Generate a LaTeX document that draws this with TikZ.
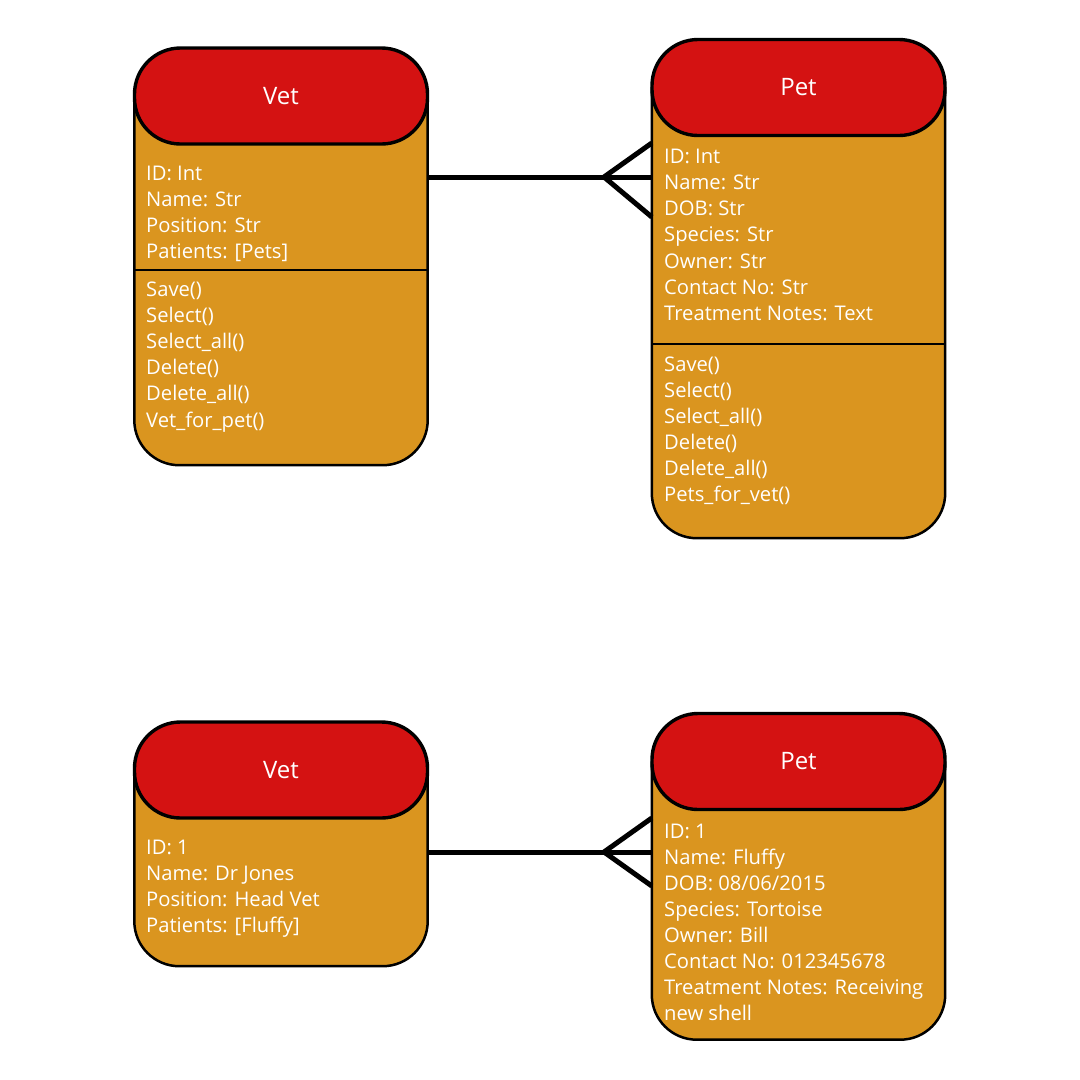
\documentclass[tikz,border=0pt]{standalone}
\usepackage{fontspec}
\setmainfont{Open Sans}
\definecolor{hdred}{HTML}{D41212}
\definecolor{bodyor}{HTML}{DA951F}
\tikzset{
  header/.style={draw=black, line width=3.4pt, fill=hdred, rounded corners=46pt,
    minimum width=293pt, minimum height=96pt, inner sep=0pt, text=white,
    font=\fontsize{24}{28}\selectfont},
  bodyarea/.style={inner sep=0pt, minimum width=293pt},
  bodyline/.style={draw=black, line width=2.5pt, fill=bodyor, rounded corners=45pt},
  divider/.style={draw=black, line width=2pt},
  txt/.style={anchor=base west, inner sep=0pt, text=white, font=\fontsize{20.2}{24}\selectfont},
  conn/.style={draw=black, line width=5pt},
}
\newcommand\textlines[5]{%
  \foreach \t [count=\i from 0] in {#4} {\node[txt] (#5-\i) at (#1,{#2+\i*#3}) {\t};}}
\begin{document}
\begin{tikzpicture}[x=1pt,y=-1pt]
\useasboundingbox (0,0) rectangle (1080,1080);
\fill[white] (0,0) rectangle (1080,1080);

% ---------- top Vet ----------
\node[bodyarea, minimum height=369pt] (vetA) at (281,280.5) {};
\path[bodyline] (vetA.north west) -- (vetA.south west) -- (vetA.south east) -- (vetA.north east);
\draw[divider] (vetA.west |- 0,270) -- (vetA.east |- 0,270);
\node[header] (vetAh) at (281,96) {Vet};
\textlines{146}{180}{26.1}{ID: Int,Name: Str,Position: Str,Patients: [Pets]}{va}
\textlines{146}{296.5}{26.1}{Save(),Select(),Select\_all(),Delete(),Delete\_all(),Vet\_for\_pet()}{vm}

% ---------- top Pet ----------
\node[bodyarea, minimum height=451pt] (petA) at (798.5,312.5) {};
\path[bodyline] (petA.north west) -- (petA.south west) -- (petA.south east) -- (petA.north east);
\draw[divider] (petA.west |- 0,344) -- (petA.east |- 0,344);
\node[header] (petAh) at (798.5,87.5) {Pet};
\textlines{664}{163}{26.3}{ID: Int,Name: Str,DOB: Str,Species: Str,Owner: Str,Contact No: Str,Treatment Notes: Text}{pa}
\textlines{664}{371}{26.1}{Save(),Select(),Select\_all(),Delete(),Delete\_all(),Pets\_for\_vet()}{pm}

% ---------- bottom Vet ----------
\node[bodyarea, minimum height=196pt] (vetB) at (281,868) {};
\path[bodyline] (vetB.north west) -- (vetB.south west) -- (vetB.south east) -- (vetB.north east);
\node[header] (vetBh) at (281,770) {Vet};
\textlines{146}{854}{26.2}{ID: 1,Name: Dr Jones,Position: Head Vet,Patients: [Fluffy]}{vb}

% ---------- bottom Pet ----------
\node[bodyarea, minimum height=278pt] (petB) at (798.5,900.5) {};
\path[bodyline] (petB.north west) -- (petB.south west) -- (petB.south east) -- (petB.north east);
\node[header] (petBh) at (798.5,761.5) {Pet};
\textlines{664}{838}{26}{ID: 1,Name: Fluffy,DOB: 08/06/2015,Species: Tortoise,Owner: Bill,Contact No: 012345678,Treatment Notes: Receiving,new shell}{pb}

% ---------- connectors ----------
\coordinate (crowA) at (604,177);
\draw[conn] (vetA.east |- crowA) -- (petA.west |- crowA);
\draw[conn] (petA.west |- 0,143) -- (crowA) -- (petA.west |- 0,217);
\coordinate (crowB) at (604,852);
\draw[conn] (vetB.east |- crowB) -- (petB.west |- crowB);
\draw[conn] (petB.west |- 0,818) -- (crowB) -- (petB.west |- 0,886);
\end{tikzpicture}
\end{document}
